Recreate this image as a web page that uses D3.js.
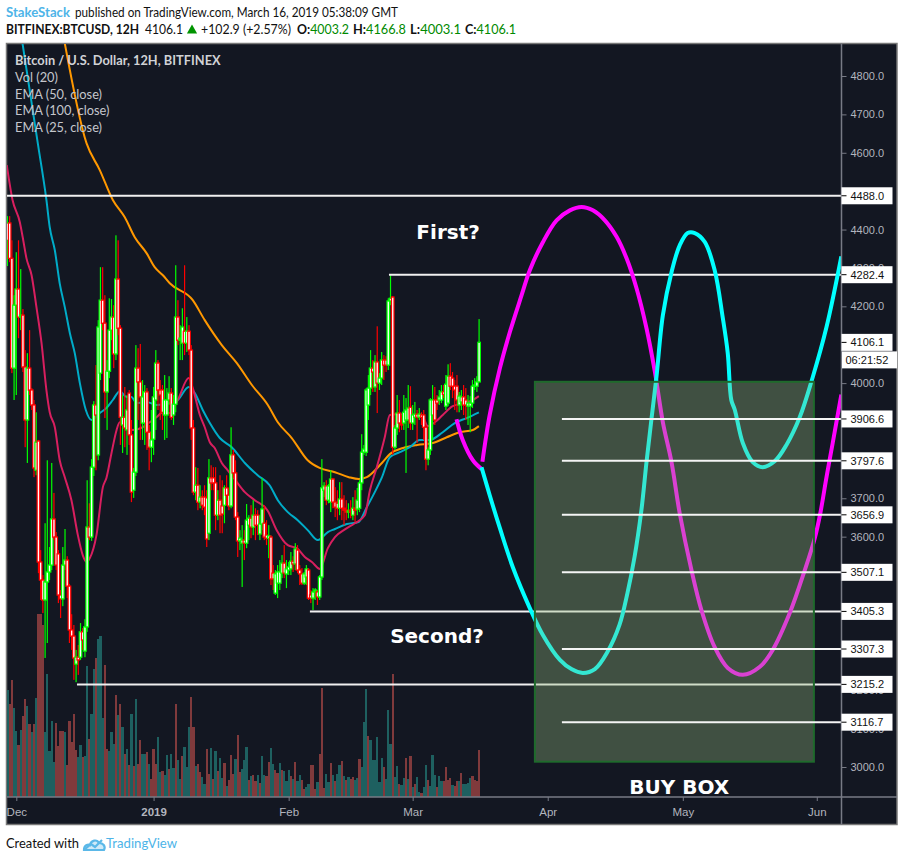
<!DOCTYPE html>
<html>
<head>
<meta charset="utf-8">
<script src="https://cdnjs.cloudflare.com/ajax/libs/d3/7.8.5/d3.min.js"></script>
<style>
html,body{margin:0;padding:0;background:#fff;overflow:hidden}
svg{display:block}
text{font-kerning:normal}
</style>
</head>
<body>
<svg id="c" width="904" height="861"></svg>
<script>
// ---------- Candles (12H bars). First bar is number -4 relative to 1 Dec 2018 ----------
const firstBar = -4;
const opens = [4372,4417,4325,4039,4203,4245,4172,4177,4042,3904,4039,3982,3943,3773,3849,3534,3487,3435,3482,3508,3526,3646,3599,3555,3448,3438,3526,3539,3471,3357,3341,3268,3286,3286,3352,3302,3365,3625,3599,3781,3943,3813,4026,4216,4156,3977,4031,4138,4172,4076,4271,4143,3891,3911,3878,3974,3865,3721,3768,4039,4003,3896,3896,3977,3872,3833,3854,3956,4052,3982,3982,3917,3917,3956,3974,3917,3945,4172,4112,4104,4135,4104,4135,4086,3883,3716,3734,3690,3703,3703,3701,3609,3753,3753,3740,3656,3695,3680,3682,3727,3708,3680,3813,3766,3651,3589,3583,3591,3583,3630,3648,3625,3656,3656,3607,3633,3635,3604,3596,3599,3505,3453,3479,3479,3505,3531,3503,3513,3516,3536,3529,3565,3513,3503,3479,3495,3513,3448,3440,3456,3456,3443,3495,3721,3732,3695,3690,3750,3690,3687,3674,3698,3674,3669,3664,3669,3656,3674,3672,3674,3740,3820,3820,3943,3987,4039,3990,4055,4000,4013,4060,4060,4047,4214,4224,3833,3883,3922,3896,3896,3904,3904,3937,3896,3911,3919,3911,3917,3917,3885,3802,3826,3917,3956,3956,3956,3956,3977,3940,3948,4018,4013,3992,3992,3943,3951,3964,3956,3940,3940,3948,3992,3992,4003.2];
const highs = [4435,4435,4372,4229,4341,4372,4297,4193,4086,4078,4138,3987,3956,3924,3852,3565,3500,3635,3799,3573,3792,3714,3612,3565,3461,3573,3620,3549,3477,3398,3370,3305,3318,3375,3362,3385,3747,3687,3802,3953,4047,4164,4302,4302,4229,4060,4221,4219,4203,4385,4372,4151,3969,3990,3969,3982,3904,3779,4099,4091,4102,4008,3995,3987,3891,3930,3990,4086,4060,4008,3995,4021,3987,4018,3987,3969,4307,4216,4151,4195,4307,4172,4151,4099,3904,3781,3779,3734,3721,3734,3721,3802,3786,3781,3781,3721,3760,3747,3734,3760,3727,3885,3826,3799,3664,3617,3630,3617,3685,3656,3682,3695,3674,3669,3656,3753,3682,3643,3630,3604,3526,3513,3526,3539,3552,3578,3539,3534,3560,3549,3583,3578,3526,3518,3508,3526,3518,3461,3466,3466,3461,3500,3802,3742,3747,3737,3773,3753,3729,3721,3742,3742,3708,3695,3687,3695,3703,3721,3727,3747,3867,3839,3987,4021,4086,4060,4073,4148,4026,4081,4073,4070,4221,4281,4227,3891,3969,3956,3917,3969,3961,3995,3992,3943,3951,3930,3935,3924,3930,3891,3833,3961,3995,3990,3969,3982,3995,3995,4021,4049,4052,4029,4008,4021,3977,3982,3995,3987,3969,3966,4008,4013,4018,4166.8];
const lows = [4305,4315,4026,3956,3969,4117,4138,4029,3833,3792,3969,3930,3755,3760,3505,3435,3401,3284,3323,3487,3513,3591,3513,3427,3388,3419,3513,3440,3323,3305,3227,3221,3240,3279,3305,3286,3352,3591,3589,3758,3773,3799,4008,4138,3909,3878,4013,4112,4039,4060,4125,3839,3818,3833,3813,3839,3690,3701,3758,3904,3852,3852,3839,3826,3773,3794,3813,3878,3930,3904,3878,3852,3857,3943,3904,3891,3924,4099,4060,4060,4073,4081,4073,3852,3708,3695,3669,3674,3669,3656,3573,3591,3721,3721,3617,3643,3609,3609,3635,3682,3669,3674,3753,3643,3547,3565,3469,3539,3570,3591,3596,3604,3591,3604,3591,3617,3591,3578,3544,3474,3461,3448,3440,3461,3492,3492,3466,3500,3500,3508,3513,3505,3474,3474,3474,3474,3435,3427,3409,3435,3422,3435,3487,3703,3682,3687,3664,3674,3651,3643,3656,3643,3630,3643,3648,3648,3643,3638,3656,3664,3721,3813,3810,3904,3969,3977,3977,3922,3982,3995,4008,4029,4034,4203,3813,3826,3865,3872,3878,3878,3766,3883,3878,3878,3891,3844,3904,3891,3852,3773,3786,3813,3852,3891,3930,3943,3948,3961,3930,3940,3982,3961,3930,3924,3924,3930,3917,3904,3891,3872,3935,3982,3977,4003.1];
const closes = [4417,4325,4039,4203,4245,4172,4177,4042,3904,4039,3982,3943,3779,3846,3534,3487,3435,3482,3508,3526,3646,3599,3526,3448,3438,3526,3539,3471,3357,3341,3284,3286,3279,3352,3331,3365,3625,3599,3781,3943,3917,4146,4216,4156,3977,4031,4138,4172,4076,4271,4143,3911,3911,3883,3930,3865,3716,3768,4039,4003,3964,3964,3977,3872,3833,3852,3964,4052,3982,3969,3924,3956,3956,3974,3911,3945,4172,4112,4117,4146,4104,4135,4086,3883,3716,3734,3690,3703,3682,3677,3594,3753,3740,3740,3656,3695,3656,3659,3727,3708,3680,3813,3766,3651,3589,3596,3591,3583,3643,3648,3625,3656,3630,3630,3633,3672,3599,3596,3602,3490,3490,3503,3508,3508,3531,3505,3516,3521,3536,3529,3568,3513,3503,3479,3503,3516,3440,3440,3456,3461,3443,3495,3727,3732,3695,3732,3750,3690,3677,3674,3698,3674,3669,3664,3667,3664,3674,3669,3695,3740,3820,3828,3982,3987,4039,4029,4055,4000,4013,4060,4047,4047,4214,4221,3833,3883,3922,3896,3891,3924,3930,3935,3896,3917,3919,3911,3919,3911,3885,3802,3826,3956,3956,3904,3948,3964,3977,3971,3997,4018,3992,3992,3982,3956,3966,3964,3943,3943,3948,3948,3992,3995,4003,4106.1];
// ---------- Volume, one value per bar, and its side (T = up bar, R = down bar) ----------
const volumes = [107,93,117,89,66,52,67,81,98,91,73,65,73,99,183,183,172,65,123,46,76,35,74,51,66,66,65,32,76,55,83,47,40,52,40,41,131,58,83,128,139,158,161,79,132,48,46,65,53,102,82,93,70,43,48,32,83,31,98,33,57,43,43,45,33,18,48,33,60,25,26,22,42,28,43,29,93,37,18,41,50,30,70,100,70,31,33,25,20,13,48,23,49,18,46,26,39,19,34,11,17,42,23,38,62,25,28,37,50,17,21,22,16,22,14,41,22,21,35,49,33,27,24,34,27,26,16,27,21,18,35,16,22,17,8,10,13,32,32,8,15,43,109,9,23,15,34,22,16,23,32,36,21,17,20,18,20,17,19,38,30,75,108,61,57,37,37,60,15,39,30,18,87,53,123,20,31,13,12,19,39,18,41,10,13,20,5,4,10,32,17,11,42,22,10,21,16,16,30,17,19,12,11,16,16,24,13,13,14,19,21,17,16,47];
const volumeSides = "TRRTTRTRRTRTRTRRRTTTTTRRRRTRRRRRTTRTTRTTRTTTRRTTTRTRTRTRTRTRRTTRTRRRTTRTTRTTRTTRTTTRRTRRTTRRTRTRTTRTRRRTRRTTTRTRRTRTTRRTTRRTRTTTRTRTTRRTTRRRTRRRTTRTRTTRTRTRRTTRTTTRTTTTTTRTTTRTTRTTRTRTRTTRTTRTTTRTTRRRRTRRTRTTTT";
// ---------- EMA lines: bar number and price at points ----------
const ema25Bars = [-4.3,-1.7,1.6,2.9,4.6,6.9,9.1,11.4,13.6,15.1,17.4,19.6,21.9,24.9,27.8,30,31.7,33.2,36.2,39.1,40.7,43,45.3,46.7,49,52.6,57.1,60.3,63.3,66.2,69.3,72.9,77.9,79.7,82.9,85.1,87.4,89.6,92.8,95.5,99.6,103.2,107.7,113.6,117.6,122.6,126.7,130.3,133.5,137.1,140.7,143.9,148.4,152.9,157.4,159.7,162.8,166.4,168.7,171.8,177.7,183.6,185.8,189,192.6,197.1,202.5,206.2,208.9];
const ema25Values = [4568,4477,4419,4380,4325,4281,4198,4104,3982,3924,3885,3799,3755,3695,3604,3552,3534,3544,3604,3729,3753,3818,3878,3898,3898,3878,3885,3898,3911,3924,3922,3956,4013,3987,3917,3885,3846,3831,3792,3773,3742,3716,3695,3667,3617,3578,3570,3547,3534,3516,3570,3599,3619,3635,3656,3721,3781,3859,3917,3919,3917,3911,3888,3898,3917,3940,3948,3956,3966];
const ema50Bars = [2.8,9.7,13.6,15.1,17.4,19.6,21.9,24.2,26.4,28.7,31.4,34,37.7,40.7,43.6,46.7,49.8,52,54.3,58.8,63.3,69.3,72.9,77.9,80.6,84.2,87.4,91.9,97.3,103.2,109,114.4,118.1,122.6,127.1,131.6,136.2,140.7,143.9,149.3,154.5,158.3,161.9,165,168.7,173.2,177.7,182.2,186.7,192.6,198,203.4,208.9];
const ema50Values = [4885,4625,4477,4406,4346,4260,4198,4130,4078,4000,3930,3904,3922,3935,3956,3979,3964,3964,3948,3951,3943,3948,3956,3990,3974,3930,3896,3857,3833,3792,3760,3734,3695,3664,3643,3617,3591,3612,3620,3633,3638,3677,3716,3753,3807,3820,3833,3852,3852,3872,3896,3909,3924];
const ema100Bars = [21.9,31.7,37.7,43.6,49,53.5,58.9,62.5,66.2,69.3,79.7,85.1,92.8,99.6,106.4,113.6,118.1,124.4,131.6,137,143.9,150.2,154.7,158.3,165.1,168.7,174.7,181,188.1,194.4,200.3,206.2,208.9];
const ema100Values = [4885,4625,4555,4477,4432,4380,4338,4302,4281,4260,4216,4164,4099,4052,3995,3943,3898,3857,3799,3779,3768,3755,3750,3755,3792,3815,3831,3839,3844,3859,3872,3878,3888];
// ---------- Hand drawn projections ----------
const pinkStubBars = [198.8,201.6,206.2,210.1];
const pinkStubPrices = [3906,3852,3799,3776];
const pinkBars = [210.5,213.8,218.4,222.9,228.2,231.9,237.8,244,250,255.3,260.4,265.8,271.1,275.6,280.1,284.6,288.4,292,295.9,299.6,304.9,309.4,315.4,321.3,328.1,335.8,341.6,349.3,356.1,360.6,363.1,365.9,368.7,372.6];
const pinkPrices = [3795,3917,4039,4133,4229,4294,4367,4424,4450,4459,4450,4424,4381,4325,4247,4143,4029,3898,3794,3661,3513,3409,3312,3258,3240,3261,3305,3401,3513,3596,3661,3755,3844,3970];
const cyanBars = [210.1,213.8,218.4,224.2,231.9,237.8,245.5,250.7,255.8,261.3,267,272.4,276,279.2,282.3,284.6,286.9,289.1,292,295.9,299.6,303.2,306.4,310.9,315.4,319,321.3,322.9,324.5,328.1,332.6,337.1,342.6,347.8,353.8,359.7,365.9,372.6];
const cyanPrices = [3781,3708,3622,3521,3414,3344,3279,3255,3245,3255,3300,3370,3453,3547,3669,3794,3909,4016,4177,4289,4359,4391,4391,4368,4294,4172,4078,3956,3930,3844,3794,3781,3797,3839,3911,4016,4146,4330];
const boxBars = [234.2,360.2];
const boxPrices = [4003.4,3013.8];
// ---------- Horizontal levels ----------
const behindLevels = [4488,4282.4,3405.3,3215.2];
const behindStarts = [-6,168.3,132.6,27.4];
const frontLevels = [3906.6,3797.6,3656.9,3507.1,3307.3,3116.7];
const frontStart = 246.4;
const lastPrice = 4106.1;
const countdown = "06:21:52";
// ---------- Axes (ticks wholly covered by a price label in the reference are left out) ----------
const priceTicks = [3000,3100,3200,3600,3700,4000,4200,4300,4400,4600,4700,4800];
const timeTickBars = [0,62,123,179,240,301,361.5];
const timeTickLabels = ["Dec","2019","Feb","Mar","Apr","May","Jun"];
// ---------- Texts ----------
const legendLines = ["Bitcoin / U.S. Dollar, 12H, BITFINEX","Vol (20)","EMA (50, close)","EMA (100, close)","EMA (25, close)"];
const calloutTexts = [["First?",4376],["Second?",3323],["BUY BOX",2930]];
const calloutBars = [195,190,299.4];

// ---------- Layout ----------
const plotL=6.5, plotT=43.5, plotR=841.5, plotB=797, frameR=897, frameB=824.5;
const bg="#131722";
const x=d3.scaleLinear().domain([0,100]).range([16.3,237.73]);
const y=d3.scaleLinear().domain([3000,4800]).range([767,76]);
const vol=d3.scaleLinear().domain([0,100]).range([plotB,plotB-100]);
const step=x(1)-x(0);
const svg=d3.select("#c");
const bars=d3.range(opens.length).map(i=>i+firstBar);

svg.append("rect").attr("x",plotL).attr("y",plotT).attr("width",frameR-plotL).attr("height",frameB-plotT).attr("fill",bg).attr("stroke","#787878").attr("stroke-width",1.5);
svg.append("clipPath").attr("id","plot").append("rect").attr("x",plotL+.5).attr("y",plotT+.5).attr("width",plotR-plotL-.5).attr("height",plotB-plotT-.5);
const g=svg.append("g").attr("clip-path","url(#plot)");

// Volume
g.append("g").attr("shape-rendering","crispEdges").selectAll("rect").data(volumes).join("rect")
 .attr("x",(d,i)=>Math.round(x(bars[i])-step/2)).attr("width",(d,i)=>Math.round(x(bars[i])+step/2)-Math.round(x(bars[i])-step/2))
 .attr("y",d=>vol(d)).attr("height",d=>plotB-vol(d))
 .attr("fill",(d,i)=>volumeSides[i]==="T"?"#1e6060":"#803a3c");

// EMAs
const lineOf=(xs,ys,curve)=>d3.line().curve(curve||d3.curveMonotoneX).x((d,i)=>x(xs[i])).y((d,i)=>y(ys[i]))(xs);
[[ema100Bars,ema100Values,"#ff9800"],[ema50Bars,ema50Values,"#00acc8"],[ema25Bars,ema25Values,"#d81f5f"]].forEach(([a,b,c])=>{
  g.append("path").attr("d",lineOf(a,b)).attr("fill","none").attr("stroke",c).attr("stroke-width",2);
});

// Candles, each one drawn whole over the one before it
const cg=g.append("g");
bars.forEach((b,i)=>{
  const up=closes[i]>=opens[i], col=up?"#00ff00":"#ff0000";
  const cx=x(b);
  const t=y(Math.max(opens[i],closes[i])), h=Math.abs(y(opens[i])-y(closes[i]));
  cg.append("rect").attr("x",cx-.6).attr("width",1.2).attr("y",y(highs[i])).attr("height",y(lows[i])-y(highs[i])).attr("fill",col);
  cg.append("rect").attr("x",cx-1.9).attr("width",3.8).attr("y",t-.7).attr("height",Math.max(h+1.4,2)).attr("fill",col);
  if(h>2) cg.append("rect").attr("x",cx-.65).attr("width",1.3).attr("y",t+.6).attr("height",h-1.2).attr("fill","#fff");
});

// Levels behind the box
const levG=g.append("g");
behindLevels.forEach((p,i)=>levG.append("line").attr("x1",x(behindStarts[i])).attr("x2",plotR).attr("y1",y(p)).attr("y2",y(p)).attr("stroke","#f0f0f0").attr("stroke-width",2));

// Projections
[[pinkStubBars,pinkStubPrices,"#ff00ff"],[pinkBars,pinkPrices,"#ff00ff"],[cyanBars,cyanPrices,"#00ffff"]].forEach(([a,b,c])=>{
  g.append("path").attr("d",lineOf(a,b,d3.curveCatmullRom)).attr("fill","none").attr("stroke",c).attr("stroke-width",4);
});

// Buy box
g.append("rect").attr("x",x(boxBars[0])).attr("width",x(boxBars[1])-x(boxBars[0])).attr("y",y(boxPrices[0])).attr("height",y(boxPrices[1])-y(boxPrices[0]))
 .attr("fill","rgba(148,186,126,.35)").attr("stroke","#1f6a2c").attr("stroke-width",2);

// Levels over the box
frontLevels.forEach(p=>g.append("line").attr("x1",x(frontStart)).attr("x2",plotR).attr("y1",y(p)).attr("y2",y(p)).attr("stroke","#f4f4f4").attr("stroke-width",2));

// Axis lines
const axisCol="#787b86";
svg.append("line").attr("x1",plotL).attr("x2",frameR).attr("y1",plotB).attr("y2",plotB).attr("stroke",axisCol).attr("stroke-width",1.5);
svg.append("line").attr("x1",plotR).attr("x2",plotR).attr("y1",plotT).attr("y2",frameB).attr("stroke",axisCol).attr("stroke-width",1.5);

// Price axis
const yAxis=d3.axisRight(y).tickValues(priceTicks).tickSize(5).tickPadding(4).tickFormat(d3.format(".1f"));
const ya=svg.append("g").attr("transform",`translate(${plotR},0)`).call(yAxis);
ya.select(".domain").remove();
ya.selectAll("line").attr("stroke",axisCol);
ya.selectAll("text").attr("fill","#b2b5be").attr("font-family","'Liberation Sans',Arial,sans-serif").attr("font-size",11);

// Time axis
const xAxis=d3.axisBottom(x).tickValues(timeTickBars).tickSize(4).tickPadding(7).tickFormat((d,i)=>timeTickLabels[i]);
const xa=svg.append("g").attr("transform",`translate(0,${plotB})`).call(xAxis);
xa.select(".domain").remove();
xa.selectAll("line").attr("stroke",axisCol);
xa.selectAll("text").attr("fill","#b2b5be").attr("font-family","'Liberation Sans',Arial,sans-serif").attr("font-size",11.5).attr("font-weight",(d,i)=>timeTickLabels[i]==="2019"?"bold":"normal");

// Price labels
const allLabels=[...behindLevels,...frontLevels,lastPrice];
const lab=svg.append("g").attr("font-family","'Liberation Sans',Arial,sans-serif").attr("font-size",11);
allLabels.forEach(p=>{
  const yy=y(p);
  lab.append("rect").attr("x",plotR).attr("y",yy-8.5).attr("width",51).attr("height",17).attr("fill","#fff");
  lab.append("line").attr("x1",plotR).attr("x2",plotR+5).attr("y1",yy).attr("y2",yy).attr("stroke","#000").attr("stroke-width",1);
  lab.append("text").attr("x",plotR+9).attr("y",yy+4).attr("fill","#111").text(d3.format(".1f")(p));
});
const cdY=y(lastPrice)+9;
lab.append("rect").attr("x",plotR+.5).attr("y",cdY).attr("width",55).attr("height",17).attr("fill","#fff");
lab.append("text").attr("x",plotR+4).attr("y",cdY+12.5).attr("fill","#111").text(countdown);

// Legend
legendLines.forEach((t,i)=>{
  svg.append("text").attr("x",15).attr("y",65+i*16.8).attr("fill",i?"#c4c6cc":"#d0d2d6").attr("font-family","Lato,sans-serif").attr("font-size",12.8).attr("font-weight",i?"normal":"bold").text(t);
});

// Callouts
calloutTexts.forEach(([t,p],i)=>{
  svg.append("text").attr("x",x(calloutBars[i])).attr("y",y(p)).attr("text-anchor","middle").attr("fill","#fff").attr("font-family","'DejaVu Sans',sans-serif").attr("font-weight","bold").attr("font-size",20).text(t);
});

// Header: each text is fitted to the width it has in the reference
const F="Lato,sans-serif";
const fit=(sel,w)=>sel.attr("textLength",w).attr("lengthAdjust","spacingAndGlyphs");
const head=(t,xx,yy,w,o={})=>fit(svg.append("text").attr("x",xx).attr("y",yy).attr("font-family",F).attr("font-size",13.5).attr("font-weight",o.b?"bold":"normal").attr("fill",o.c||"#111").text(t),w);
head("StakeStack",6,17,64,{c:"#4db4e8",b:1});
head("published on TradingView.com, March 16, 2019 05:38:09 GMT",75,17,323);
head("BITFINEX:BTCUSD, 12H",6,34,133,{b:1});
head("4106.1",145,34,38);
svg.append("path").attr("d",d3.symbol(d3.symbolTriangle,45)()).attr("transform","translate(192,30.5)").attr("fill","#009400");
head("+102.9 (+2.57%)",201,34,90);
const ohlcNames=["O:","H:","L:","C:"], ohlcVals=["4003.2","4166.8","4003.1","4106.1"], ohlcXs=[297,353,410,465], ohlcWs=[52,53,51,51];
ohlcNames.forEach((n,i)=>{
  const t=svg.append("text").attr("x",ohlcXs[i]).attr("y",34).attr("font-family",F).attr("font-size",13.5);
  t.append("tspan").attr("font-weight","bold").attr("fill","#111").text(n);
  t.append("tspan").attr("fill","#008a00").text(ohlcVals[i]);
  fit(t,ohlcWs[i]);
});

// Footer
head("Created with",6,848,73);
const logo=svg.append("g").attr("transform","translate(82,836)").attr("fill","none").attr("stroke","#5bb8e8").attr("stroke-width",2.2);
logo.append("path").attr("d","M2,14 C2,9 6,8 8,9 C9,4 15,3 17,7 C21,7 24,10 22,14 Z").attr("fill","#cfeaf8");
logo.append("path").attr("d","M2,14 L9,8 L13,11 L20,4");
head("TradingView",106,848,71,{c:"#4db4e8"});
</script>
</body>
</html>
